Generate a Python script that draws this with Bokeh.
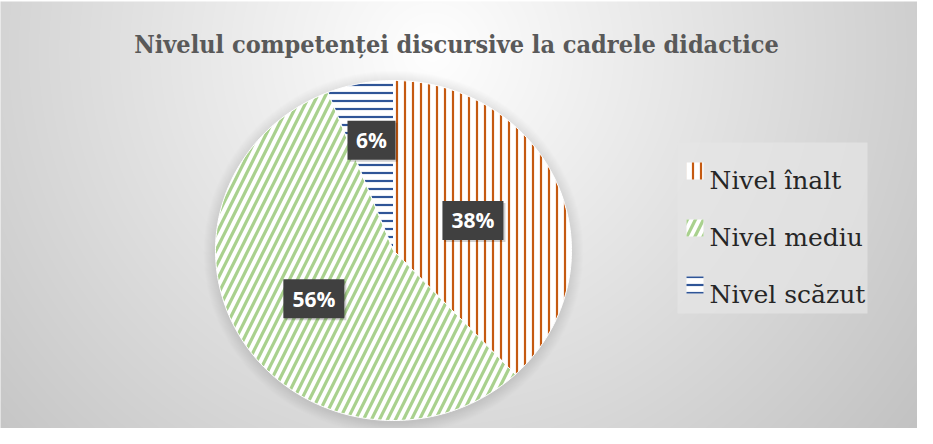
import numpy as np
from bokeh.plotting import figure
from bokeh.models import Range1d, ColumnDataSource
from bokeh.core.properties import value
from bokeh.embed import file_html
from bokeh.resources import INLINE

# ---------------- data ----------------
title_text = "Nivelul competenței discursive la cadrele didactice"
categories = ["Nivel înalt", "Nivel mediu", "Nivel scăzut"]
values = [38, 56, 6]
label_texts = ["38%", "56%", "6%"]

# ---------------- styles ----------------
hatch_colors = ["#c55a11", "#a9d18e", "#2f5597"]
hatch_patterns = ["|", "/", "-"]
hatch_weights = [2.2, 3.2, 2.2]
hatch_scales = [8, 16, 8]
label_frac = [0.48, 0.53, 0.66]

W, H = 917, 428
SCREEN_H = 444


def Y(sy):
    # screen y (reference pixels) -> data y
    return SCREEN_H - sy


p = figure(width=W, height=H, x_range=Range1d(8, 8 + W), y_range=Range1d(SCREEN_H - 8 - H, SCREEN_H - 8),
           output_backend="svg", toolbar_location=None, min_border=0)
p.axis.visible = False
p.grid.visible = False
p.outline_line_color = None
p.background_fill_color = "white"
p.border_fill_color = "white"

# ---------------- background radial gradient ----------------
bx0, by0_screen, bx1, by1_screen = 5, 9, 8 + W, 8 + H
nx, ny = bx1 - bx0, by1_screen - by0_screen
xs_px = bx0 + np.arange(nx) + 0.5
ys_data = Y(by1_screen) + np.arange(ny) + 0.5
ys_px = SCREEN_H - ys_data
XX, YY = np.meshgrid(xs_px, ys_px)
d = np.hypot(XX - 440, YY - 60)
v = np.clip(255 - 0.099 * d, 0, 255).astype(np.uint8)
img = np.empty((ny, nx), dtype=np.uint32)
view = img.view(dtype=np.uint8).reshape((ny, nx, 4))
view[:, :, 0] = v
view[:, :, 1] = v
view[:, :, 2] = v
view[:, :, 3] = 255
p.image_rgba(image=[img], x=bx0, y=Y(by1_screen), dw=nx, dh=ny)

# ---------------- pie ----------------
cx, cy = 401, Y(258)
rx, ry = 178, 170

# soft shadow
for k in range(1, 13):
    p.ellipse(x=cx, y=cy - 2, width=2 * (rx + k), height=2 * (ry + k),
              fill_color="black", fill_alpha=0.009, line_color=None)

total = float(sum(values))
starts, ends = [], []
acc = 0.0
for val in values:
    starts.append(acc / total * 2 * np.pi)
    acc += val
    ends.append(acc / total * 2 * np.pi)

px_list, py_list = [], []
for a0, a1 in zip(starts, ends):
    n = max(4, int((a1 - a0) / (2 * np.pi) * 400))
    t = np.linspace(a0, a1, n)
    px_list.append([cx] + list(cx + rx * np.sin(t)))
    py_list.append([cy] + list(cy + ry * np.cos(t)))

src = ColumnDataSource(dict(xs=px_list, ys=py_list, hc=hatch_colors, hp=hatch_patterns,
                            hw=hatch_weights, hs=hatch_scales, name=categories))
p.patches(xs="xs", ys="ys", source=src, fill_color="white", hatch_pattern="hp",
          hatch_color="hc", hatch_weight="hw", hatch_scale="hs", line_color="white", line_width=1)

# ---------------- data labels ----------------
lx, ly, lw = [], [], []
for a0, a1, f, t in zip(starts, ends, label_frac, label_texts):
    m = (a0 + a1) / 2
    lx.append(cx + f * rx * np.sin(m))
    ly.append(cy + f * ry * np.cos(m))
    lw.append(22 + 13 * len(t))
lsrc = ColumnDataSource(dict(x=lx, y=ly, w=lw, t=label_texts,
                             xs=[x + 2 for x in lx], ys=[y - 2 for y in ly]))
p.rect(x="xs", y="ys", width="w", height=39, source=lsrc, fill_color="black", fill_alpha=0.18, line_color=None)
p.rect(x="x", y="y", width="w", height=39, source=lsrc, fill_color="#404040", line_color=None)
p.text(x="x", y="y", text="t", source=lsrc, text_color="white", text_font=value("Open Sans"),
       text_font_style="bold", text_font_size="21px", text_align="center", text_baseline="middle")

# ---------------- title ----------------
p.text(x=[464], y=[Y(52)], text=[title_text], text_color="#595959", text_font=value("DejaVu Serif Condensed"),
       text_font_style="bold", text_font_size="25px", text_align="center", text_baseline="alphabetic")

# ---------------- legend ----------------
p.rect(x=[780], y=[Y(235.5)], width=190, height=171, fill_color="#e6e6e6", fill_alpha=0.7, line_color=None)
sw_y = [Y(178.5 + 57 * i) for i in range(len(categories))]
lgsrc = ColumnDataSource(dict(x=[702.5] * len(categories), y=sw_y, hc=hatch_colors, hp=hatch_patterns,
                              hw=hatch_weights, hs=hatch_scales, tx=[717] * len(categories),
                              ty=[y - 9 for y in sw_y], name=categories))
p.rect(x="x", y="y", width=17, height=17, source=lgsrc, fill_color="white", hatch_pattern="hp",
       hatch_color="hc", hatch_weight="hw", hatch_scale="hs", line_color=None)
p.text(x="tx", y="ty", text="name", source=lgsrc, text_color="#262626", text_font=value("DejaVu Serif"),
       text_font_size="25px", text_align="left", text_baseline="alphabetic")

open("out.html", "w").write(file_html(p, INLINE))
